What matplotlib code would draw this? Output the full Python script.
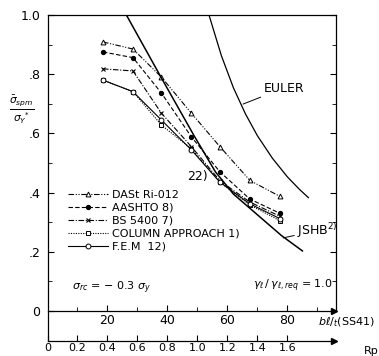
import matplotlib
matplotlib.use("Agg")
import matplotlib.pyplot as plt
from matplotlib.ticker import FixedLocator

# ---------------- data ----------------
bt = [18.5, 28.5, 38, 48, 57.5, 67.5, 77.5]
dast = [0.909, 0.885, 0.790, 0.668, 0.555, 0.441, 0.387]
aashto = [0.875, 0.856, 0.736, 0.588, 0.470, 0.378, 0.330]
bs5400 = [0.818, 0.811, 0.668, 0.555, 0.440, 0.368, 0.320]
column = [0.780, 0.741, 0.628, 0.548, 0.435, 0.358, 0.305]
fem = [0.780, 0.741, 0.645, 0.544, 0.435, 0.362, 0.312]

euler_x = [53.85, 58, 62, 66, 70, 75, 80, 84, 87]
euler_y = [1.0, 0.862, 0.754, 0.666, 0.592, 0.516, 0.453, 0.411, 0.383]

jshb_x = [26.3, 38, 49, 56, 62, 70, 78, 85]
jshb_y = [1.0, 0.787, 0.590, 0.470, 0.395, 0.325, 0.255, 0.203]

legend_labels = ["DASt Ri-012", "AASHTO 8)", "BS 5400 7)",
                 "COLUMN APPROACH 1)", "F.E.M  12)"]
y_ticks = [0, 0.2, 0.4, 0.6, 0.8, 1.0]
y_ticklabels = ["0", ".2", ".4", ".6", ".8", "1.0"]
bt_ticks = [20, 40, 60, 80]
rp_ticks = [0, 0.2, 0.4, 0.6, 0.8, 1.0, 1.2, 1.4, 1.6]
rp_ticklabels = ["0", "0.2", "0.4", "0.6", "0.8", "1.0", "1.2", "1.4", "1.6"]

# ---------------- figure ----------------
W, H = 379, 356
fig = plt.figure(figsize=(W / 100, H / 100), dpi=100)
plt.rcParams['font.family'] = ['DejaVu Sans']
fs = 8

y_bottom_px = 341
ax = fig.add_axes([47.5 / W, 1 - y_bottom_px / H, (336 - 47.5) / W, (y_bottom_px - 15) / H])
ax.set_xlim(0, 96.2)
ybot = -(y_bottom_px - 311) / 296.0
ax.set_ylim(ybot, 1.0)

lw = 0.8
ms = 3.5
ax.plot(bt, dast, color='k', lw=lw, ls=(0, (5, 1.5, 1, 1.5, 1, 1.5)),
        marker='^', ms=ms, mfc='white', mec='k', mew=0.7, label=legend_labels[0])
ax.plot(bt, aashto, color='k', lw=lw, ls=(0, (4, 2)),
        marker='o', ms=2.8, mfc='k', mec='k', label=legend_labels[1])
ax.plot(bt, bs5400, color='k', lw=lw, ls=(0, (5, 1.5, 1, 1.5)),
        marker='x', ms=ms, mec='k', mew=0.8, label=legend_labels[2])
ax.plot(bt, column, color='k', lw=lw, ls=(0, (1, 1.2)),
        marker='s', ms=3, mfc='white', mec='k', mew=0.7, label=legend_labels[3])
ax.plot(bt, fem, color='k', lw=lw, ls='-',
        marker='o', ms=3.5, mfc='white', mec='k', mew=0.7, label=legend_labels[4])

ax.plot(euler_x, euler_y, color='k', lw=0.9)
ax.plot(jshb_x, jshb_y, color='k', lw=1.1)

# ---------------- spines / axes ----------------
ax.spines['bottom'].set_position(('data', 0))
ax.spines['bottom'].set_bounds(0, 95.5)
ax.spines['right'].set_bounds(0, 1.0)
for s in ax.spines.values():
    s.set_linewidth(0.9)

ax.set_yticks(y_ticks)
ax.set_yticklabels(y_ticklabels, fontsize=fs + 1)
ax.yaxis.set_minor_locator(FixedLocator([0.1, 0.3, 0.5, 0.7, 0.9]))
ax.tick_params(axis='y', which='both', direction='in', right=True, pad=5)
ax.tick_params(axis='y', which='major', length=4)
ax.tick_params(axis='y', which='minor', length=3)

ax.set_xticks(bt_ticks)
ax.set_xticklabels([str(t) for t in bt_ticks], fontsize=fs + 1)
ax.xaxis.set_minor_locator(FixedLocator([10, 30, 50, 70, 90]))
ax.tick_params(axis='x', which='both', direction='in', pad=2, top=False)
ax.tick_params(axis='x', which='major', length=4)
ax.tick_params(axis='x', which='minor', length=3)

# Rp secondary axis at the bottom
sec = ax.secondary_xaxis(0, functions=(lambda x: x / 50.0, lambda r: r * 50.0))
sec.set_xticks(rp_ticks)
sec.set_xticklabels(rp_ticklabels, fontsize=fs)
sec.tick_params(axis='x', direction='in', length=4, pad=1.5)
sec.spines['bottom'].set_linewidth(0.9)

# arrow heads at ends of the two horizontal axes
ax.plot([95.5], [0], marker='>', color='k', ms=4, clip_on=False)
ax.plot([95.5], [ybot], marker='>', color='k', ms=4, clip_on=False)

# ---------------- legend ----------------
ax.legend(loc='upper left',
          bbox_to_anchor=((68 - 47.5) / (336 - 47.5), (y_bottom_px - 190) / (y_bottom_px - 15)),
          frameon=False, fontsize=fs, handlelength=3.6, handletextpad=0.35,
          labelspacing=0.26, borderpad=0, borderaxespad=0)

# ---------------- annotations ----------------
ax.annotate("EULER", xy=(65.2, 0.699), xytext=(72, 0.753), fontsize=fs + 1,
            va='center', ha='left',
            arrowprops=dict(arrowstyle='-', color='k', lw=0.7, shrinkA=0, shrinkB=0))
ax.annotate(r"JSHB$^{2)}$", xy=(78.6, 0.247), xytext=(83.2, 0.272), fontsize=fs + 1,
            va='center', ha='left', annotation_clip=False,
            arrowprops=dict(arrowstyle='-', color='k', lw=0.7, shrinkA=0, shrinkB=0))
ax.text(49.9, 0.453, "22)", fontsize=fs + 1, ha='center', va='center')
ax.text(8.2, 0.078, r"$\sigma_{rc}$ = $-$ 0.3 $\sigma_y$", fontsize=fs, ha='left', va='center')
ax.text(95.3, 0.085, r"$\gamma_\ell\,/\,\gamma_{\ell,req}$ = 1.0", fontsize=fs,
        ha='right', va='center')
ax.text(90.2, -0.037, r"$b\ell/_t$(SS41)", fontsize=fs, ha='left', va='center', clip_on=False)
fig.text(364 / W, 1 - 351 / H, "Rp", fontsize=fs, ha='left', va='center')

fig.text(22 / W, 1 - 110 / H, r"$\frac{\bar{\sigma}_{spm}}{\sigma_Y{}^{*}}$",
         fontsize=fs + 3, ha='center', va='center')

fig.savefig("out.png", dpi=100)
